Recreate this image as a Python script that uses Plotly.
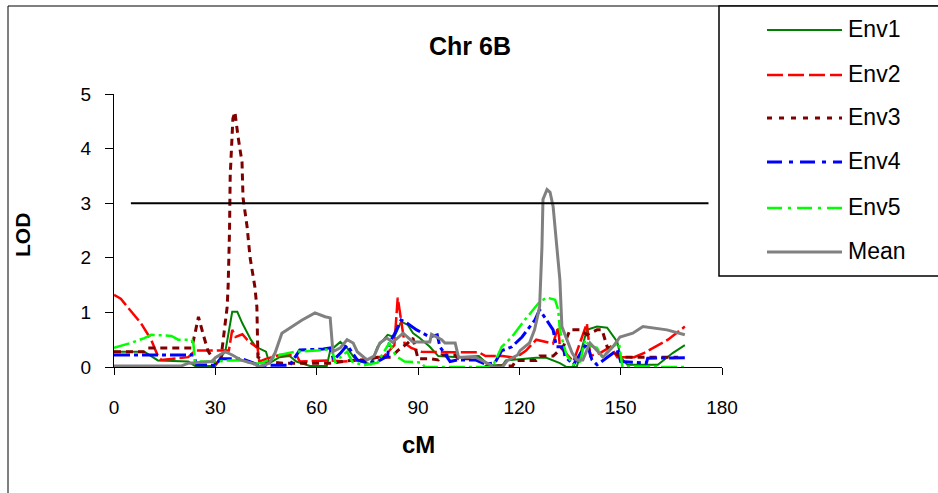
import plotly.graph_objects as go

# ---------------- data ----------------
env1_cm = [0, 9, 11, 13, 22, 24, 30, 33, 35, 36.5, 38, 40.5, 42, 45, 46, 49, 52, 54, 58, 63, 64, 67, 69, 71, 73, 76,
           78, 81, 83, 85, 87, 88.5, 90.5, 93.5, 96, 102, 108, 111, 115, 116, 125, 128, 132, 134, 137, 140, 143, 146,
           149, 150, 152, 161, 165.5, 169]
env1_lod = [0.28, 0.28, 0.2, 0.12, 0.1, 0.02, 0.02, 0.3, 1.01, 1.01, 0.8, 0.5, 0.37, 0.28, 0.07, 0.18, 0.2, 0.1, 0.02,
            0.02, 0.3, 0.46, 0.35, 0.18, 0.1, 0.05, 0.37, 0.59, 0.55, 0.83, 0.77, 0.62, 0.53, 0.37, 0.2, 0.18, 0.2,
            0.03, 0.03, 0.12, 0.17, 0.17, 0.07, 0.0, 0.0, 0.68, 0.74, 0.72, 0.46, 0.18, 0.04, 0.04, 0.26, 0.4]

env2_cm = [0, 2, 4, 8, 11, 13, 14, 18, 22, 24, 34, 35, 36, 38, 40, 42.5, 43, 45, 49, 54, 55, 64, 68, 72, 76, 80, 83,
           84, 85, 86, 88, 91, 100, 108, 110, 115, 119, 122, 125, 128, 130, 131.5, 132, 136, 140, 141, 144, 147, 149,
           154, 157, 164, 169]
env2_lod = [1.32, 1.25, 1.1, 0.8, 0.5, 0.2, 0.13, 0.15, 0.18, 0.3, 0.3, 0.68, 0.55, 0.6, 0.46, 0.35, 0.1, 0.15, 0.22,
            0.22, 0.1, 0.12, 0.1, 0.12, 0.15, 0.2, 0.4, 1.27, 0.86, 0.44, 0.35, 0.28, 0.27, 0.27, 0.2, 0.2, 0.17, 0.3,
            0.5, 0.45, 0.43, 0.74, 0.37, 0.1, 0.8, 0.2, 0.26, 0.37, 0.18, 0.18, 0.26, 0.5, 0.74]

env3_cm = [0, 9, 10, 23, 24, 25, 26.3, 27.8, 30, 31.5, 33.5, 33.8, 34.2, 34.4, 35.2, 35.8, 36.7, 37.9, 38.2, 39.4,
           40.3, 41.7, 42.3, 42.4, 42.6, 45, 50, 64, 70, 74, 78, 82, 84, 87, 88.5, 90, 94, 96, 97, 101, 102, 108, 110,
           118, 119, 125, 126, 130, 133, 135, 138, 140, 143, 144.5, 146, 150, 167]
env3_lod = [0.28, 0.28, 0.35, 0.35, 0.62, 0.92, 0.62, 0.3, 0.07, 0.07, 1.1, 1.5, 2.5, 3.5, 4.55, 4.67, 4.23, 3.75, 3.1,
            2.57, 2.0, 1.47, 1.1, 0.62, 0.18, 0.1, 0.07, 0.07, 0.12, 0.13, 0.18, 0.18, 0.3, 0.44, 0.53, 0.15, 0.15,
            0.13, 0.22, 0.22, 0.15, 0.15, 0.02, 0.02, 0.12, 0.12, 0.2, 0.2, 0.37, 0.68, 0.68, 0.59, 0.68, 0.68, 0.37,
            0.18, 0.18]

env4_cm = [0, 23.5, 24.5, 30, 31.5, 38, 41, 43, 52, 53, 55, 62, 64, 65, 67, 69, 72, 75, 78, 81, 81.5, 83, 85, 86.6,
           89.6, 93.5, 95.7, 96.5, 99.5, 101.8, 107, 110, 112.8, 114.8, 117.8, 120.8, 124.6, 126, 128, 130, 131, 133,
           133.5, 136, 140, 141.5, 143, 149, 150, 157.6, 158, 169]
env4_lod = [0.22, 0.22, 0.04, 0.03, 0.15, 0.15, 0.08, 0.03, 0.03, 0.13, 0.31, 0.33, 0.35, 0.13, 0.25, 0.4, 0.13, 0.08,
            0.1, 0.2, 0.44, 0.6, 0.86, 0.81, 0.68, 0.55, 0.59, 0.37, 0.1, 0.13, 0.13, 0.05, 0.08, 0.3, 0.37, 0.55,
            0.86, 1.05, 0.86, 0.68, 0.37, 0.37, 0.2, 0.04, 0.44, 0.13, 0.04, 0.31, 0.1, 0.07, 0.16, 0.17]

env5_cm = [0, 5, 9, 11, 17, 19, 23, 23.5, 24, 30, 34, 38.5, 41, 44, 49, 53.5, 60, 64.5, 65.5, 67, 69, 70.5, 74, 78,
           81.5, 83.5, 86, 91, 92, 112, 114.8, 117.8, 121.6, 124.6, 126.1, 128.2, 130.6, 131.5, 132, 132.7, 134, 136,
           138, 139.5, 140.5, 143, 144.6, 147.5, 149.5, 150.5, 169]
env5_lod = [0.35, 0.44, 0.53, 0.59, 0.57, 0.5, 0.5, 0.43, 0.1, 0.1, 0.12, 0.12, 0.05, 0.08, 0.22, 0.28, 0.3, 0.33,
            0.08, 0.18, 0.28, 0.1, 0.03, 0.08, 0.44, 0.2, 0.1, 0.08, 0.0, 0.0, 0.37, 0.55, 0.86, 1.1, 1.2, 1.27, 1.23,
            1.05, 0.68, 0.5, 0.22, 0.04, 0.1, 0.5, 0.4, 0.35, 0.18, 0.37, 0.44, 0.0, 0.0]

mean_cm = [0, 20, 22, 29, 30, 32.9, 35, 37.9, 42, 42.6, 46, 47.7, 49.7, 52.7, 55.7, 59.5, 62.5, 64, 64.8, 67, 69,
           70.8, 72, 74.9, 77, 78.7, 80.8, 82.5, 85.6, 88.5, 93.5, 94, 97, 98, 101, 102, 107, 111.5, 112, 115, 116.5,
           119.5, 120.2, 123, 124.5, 126, 126.7, 127, 128.2, 129.1, 130, 131.1, 132, 132.6, 134.1, 135.6, 137, 138.8,
           140.9, 143, 144.8, 147.7, 149.8, 153.6, 156.6, 163.7, 169]
mean_lod = [0.02, 0.02, 0.07, 0.1, 0.17, 0.28, 0.22, 0.12, 0.05, 0.0, 0.07, 0.26, 0.62, 0.74, 0.86, 0.99, 0.92, 0.9,
            0.28, 0.35, 0.5, 0.44, 0.28, 0.13, 0.2, 0.44, 0.53, 0.45, 0.62, 0.46, 0.46, 0.6, 0.5, 0.44, 0.44, 0.18,
            0.18, 0.04, 0.0, 0.0, 0.12, 0.22, 0.3, 0.44, 0.68, 1.1, 2.2, 3.07, 3.25, 3.2, 2.94, 2.2, 1.6, 0.74, 0.5,
            0.26, 0.13, 0.13, 0.44, 0.3, 0.18, 0.37, 0.55, 0.62, 0.74, 0.68, 0.59]

threshold_cm = [5, 176]
threshold_lod = 3

x_ticks = [0, 30, 60, 90, 120, 150, 180]
y_ticks = [0, 1, 2, 3, 4, 5]

# ---------------- styling ----------------
series = [
    ("Env1", env1_cm, env1_lod, "#008000", 2.0, "solid", "solid"),
    ("Env2", env2_cm, env2_lod, "#FF0000", 2.5, "16px,4px", "16px,5px"),
    ("Env3", env3_cm, env3_lod, "#800000", 3.0, "7px,5px", "5px,7px"),
    ("Env4", env4_cm, env4_lod, "#0000FF", 3.0, "16px,4px,4px,4px", "15px,7px,4px,7px"),
    ("Env5", env5_cm, env5_lod, "#00FF00", 2.5, "16px,4px,3px,4px", "15px,6px,3px,6px"),
    ("Mean", mean_cm, mean_lod, "#808080", 3.0, "solid", "solid"),
]

W, H = 938, 493
L, R, T, B = 114, 216, 94, 126
PW = W - L - R
PH = H - T - B
FONT = "Liberation Sans, Arial, sans-serif"


def pxx(x):
    return (x - L) / PW


def pxy(y):
    return (H - B - y) / PH


fig = go.Figure()
for name, xs, ys, color, width, dash, _ in series:
    fig.add_trace(go.Scatter(x=xs, y=ys, mode="lines", name=name, showlegend=False,
                             line=dict(color=color, width=width, dash=dash), hoverinfo="skip"))

fig.add_trace(go.Scatter(x=threshold_cm, y=[threshold_lod] * len(threshold_cm), mode="lines",
                         showlegend=False, line=dict(color="black", width=2), hoverinfo="skip"))

shapes = []
annotations = []
# outer chart border
shapes.append(dict(type="rect", xref="paper", yref="paper", x0=pxx(8), x1=pxx(960), y0=pxy(6), y1=pxy(520),
                   line=dict(color="black", width=1), fillcolor="rgba(0,0,0,0)", layer="below"))
# legend box
shapes.append(dict(type="rect", xref="paper", yref="paper", x0=pxx(719), x1=pxx(960), y0=pxy(6), y1=pxy(276),
                   line=dict(color="black", width=1.5), fillcolor="white", layer="above"))
legend_y = [30, 75, 118, 162, 208, 252]
for (name, _, _, color, width, _, ldash), ly in zip(series, legend_y):
    shapes.append(dict(type="line", xref="paper", yref="paper", x0=pxx(767), x1=pxx(842), y0=pxy(ly), y1=pxy(ly),
                       line=dict(color=color, width=width, dash=ldash), layer="above"))
    annotations.append(dict(text=name, xref="paper", yref="paper", x=pxx(846), y=pxy(ly - 1), xanchor="left",
                            yanchor="middle", showarrow=False, font=dict(family=FONT, size=23, color="black")))

annotations.append(dict(text="<b>Chr 6B</b>", xref="paper", yref="paper", x=pxx(470), y=pxy(46),
                        xanchor="center", yanchor="middle", showarrow=False,
                        font=dict(family=FONT, size=25, color="black")))
annotations.append(dict(text="<b>LOD</b>", xref="paper", yref="paper", x=pxx(23), y=pxy(235), textangle=-90,
                        xanchor="center", yanchor="middle", showarrow=False,
                        font=dict(family=FONT, size=21, color="black")))
annotations.append(dict(text="<b>cM</b>", xref="paper", yref="paper", x=pxx(418), y=pxy(445),
                        xanchor="center", yanchor="middle", showarrow=False,
                        font=dict(family=FONT, size=24, color="black")))

fig.update_layout(
    width=W, height=H,
    margin=dict(l=L, r=R, t=T, b=B, autoexpand=False),
    paper_bgcolor="white", plot_bgcolor="white",
    showlegend=False,
    shapes=shapes, annotations=annotations,
    font=dict(family=FONT, size=18, color="black"),
    xaxis=dict(range=[0, 180], tickmode="array", tickvals=x_ticks, ticktext=[str(v) for v in x_ticks],
               ticks="outside", ticklen=7, tickcolor="black", showline=True, linecolor="black", linewidth=1,
               showgrid=False, zeroline=False, tickfont=dict(family=FONT, size=19), ticklabelstandoff=16),
    yaxis=dict(range=[0, 5], tickmode="array", tickvals=y_ticks, ticktext=[str(v) for v in y_ticks],
               ticks="outside", ticklen=8, tickcolor="black", showline=True, linecolor="black", linewidth=1,
               showgrid=False, zeroline=False, tickfont=dict(family=FONT, size=19), ticklabelstandoff=10),
)

fig.write_html("out.html", config={"displayModeBar": False},
               post_script="document.body.style.margin='0';")
